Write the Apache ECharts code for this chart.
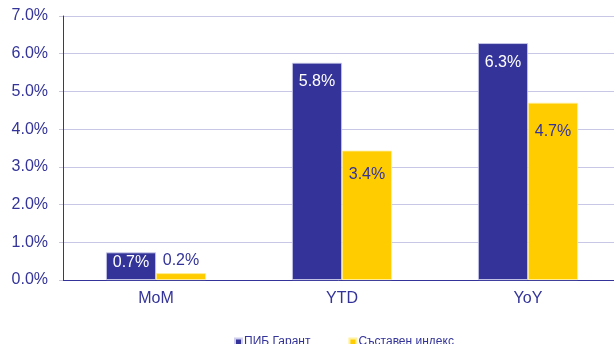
<!DOCTYPE html>
<html><head><meta charset="utf-8">
<script src="https://cdn.jsdelivr.net/npm/echarts@6/dist/echarts.min.js"></script>
<style>html,body{margin:0;padding:0;background:#fff}#c{width:614px;height:344px}</style>
</head><body><div id="c"></div>
<script>
const categories = ['MoM', 'YTD', 'YoY'];
const seriesNames = ['ПИБ Гарант', 'Съставен индекс'];
const garant = [0.73, 5.76, 6.28];
const sastaven = [0.18, 3.43, 4.70];
const garantLabelDist = [2, 11, 11];
const sastavenLabelPos = ['top', 'insideTop', 'insideTop'];
const sastavenLabelDist = [5, 16, 21];

const font = 'Liberation Sans, Arial, sans-serif';
const navy = '#333399';
const chart = echarts.init(document.getElementById('c'));
chart.setOption({
  animation: false,
  textStyle: { fontFamily: font },
  grid: { left: 63, right: -7, top: 16, bottom: 64, containLabel: false, outerBoundsMode: 'none' },
  legend: {
    left: 229, top: 331, itemWidth: 7, itemHeight: 7, itemGap: 38,
    icon: 'rect',
    textStyle: { fontSize: 12, color: navy, fontFamily: font, padding: [0,0,0,-3] },
    data: seriesNames
  },
  xAxis: {
    type: 'category', data: categories,
    axisTick: { show: false },
    axisLine: { lineStyle: { color: navy, width: 1 } },
    axisLabel: { color: navy, fontSize: 16, margin: 11, fontFamily: font }
  },
  yAxis: {
    type: 'value', min: 0, max: 7, interval: 1,
    axisLine: { show: true, lineStyle: { color: navy, width: 1 } },
    axisTick: { show: true, length: 4, lineStyle: { color: '#c8c8d8' } },
    axisLabel: { color: navy, fontSize: 16, margin: 15, fontFamily: font,
      formatter: v => v.toFixed(1) + '%' },
    splitLine: { lineStyle: { color: '#c8c8e6', width: 1 } }
  },
  series: [
    {
      name: seriesNames[0], type: 'bar', barWidth: 50, barGap: '0%',
      itemStyle: { color: navy, borderColor: '#d0d0ee', borderWidth: 0.8 },
      data: garant.map((v, i) => ({ value: v, label: { distance: garantLabelDist[i] } })),
      label: { show: true, position: 'insideTop', color: '#ffffff', fontSize: 16, fontFamily: font,
        formatter: p => p.value.toFixed(1) + '%' }
    },
    {
      name: seriesNames[1], type: 'bar', barWidth: 50, barGap: '0%',
      itemStyle: { color: '#ffcc00', borderColor: '#fff0a0', borderWidth: 0.8 },
      data: sastaven.map((v, i) => ({ value: v, label: { position: sastavenLabelPos[i], distance: sastavenLabelDist[i] } })),
      label: { show: true, color: navy, fontSize: 16, fontFamily: font,
        formatter: p => p.value.toFixed(1) + '%' }
    }
  ]
});
</script></body></html>
